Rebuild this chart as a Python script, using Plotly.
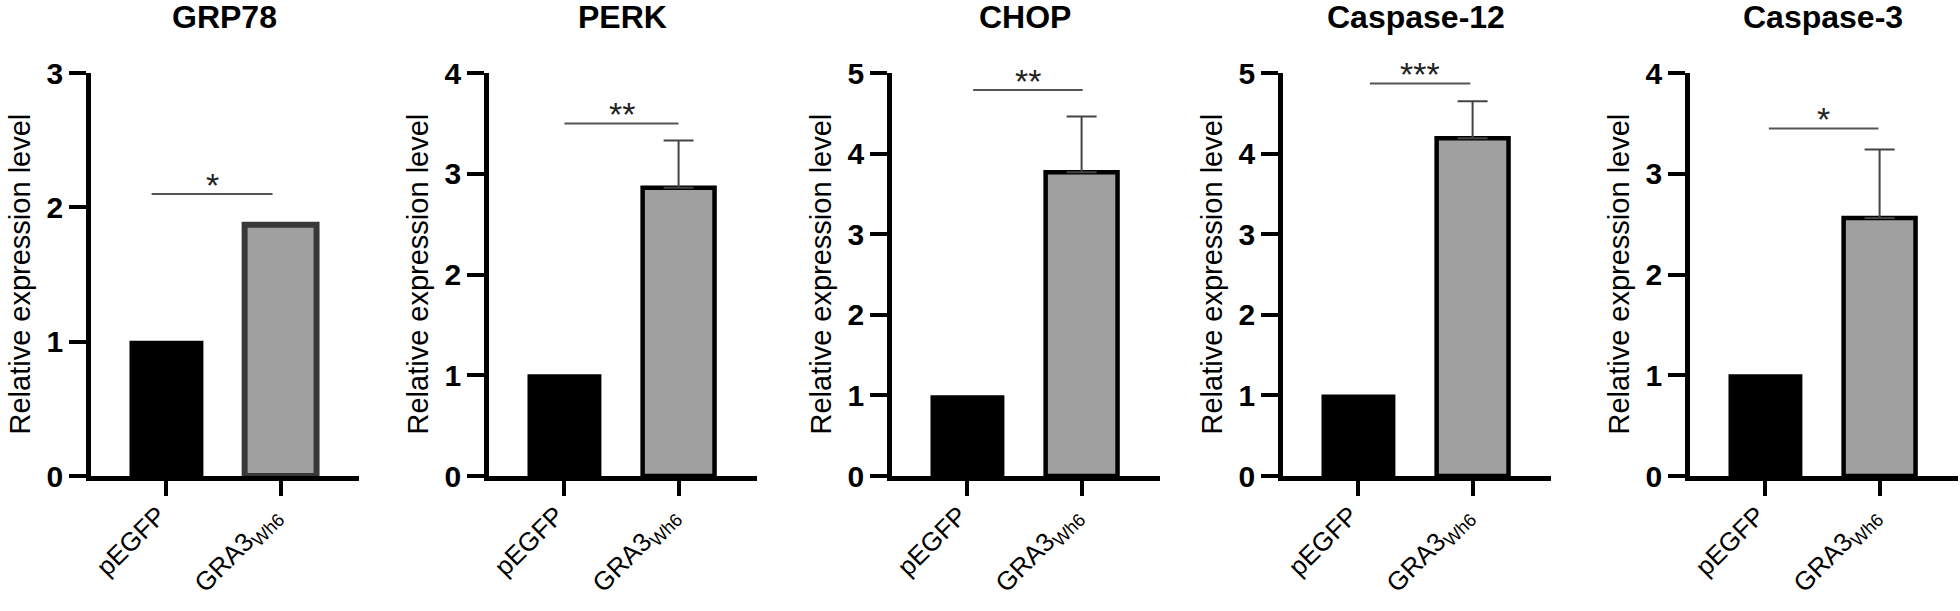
import plotly.graph_objects as go

# ---------------- data ----------------
genes = ["GRP78", "PERK", "CHOP", "Caspase-12", "Caspase-3"]
categories = ["pEGFP", "GRA3<sub>Wh6</sub>"]
pegfp_values = [1.0, 1.0, 0.99, 1.0, 1.0]
gra3_values = [1.87, 2.86, 3.77, 4.19, 2.56]
gra3_errors = [None, 0.47, 0.69, 0.46, 0.68]
y_max = [3, 4, 5, 5, 4]
sig_labels = ["*", "**", "**", "***", "*"]
sig_levels = [2.10, 3.50, 4.79, 4.87, 3.45]
sig_from = [-0.13, 0.0, 0.05, 0.10, 0.03]
sig_to = [0.93, 1.0, 1.01, 0.98, 0.99]

# ---------------- layout geometry (pixels) ----------------
W, H = 1960, 611
axis_left_px = [89, 487, 890, 1281, 1688]
axis_width_px = 270
plot_top_px, plot_bottom_px = 73, 476
FONT = "Liberation Sans, Arial, Helvetica, sans-serif"

fig = go.Figure()
annotations = []
shapes = []
layout = {}

for i, gene in enumerate(genes):
    n = "" if i == 0 else str(i + 1)
    xa, ya = "x" + n, "y" + n
    x0 = (axis_left_px[i] + 2) / W
    x1 = (axis_left_px[i] + axis_width_px) / W
    y0 = 1 - plot_bottom_px / H
    y1 = 1 - plot_top_px / H

    gra_line = "#383838" if i == 0 else "black"
    gra_lw = 6 if i == 0 else 4.5

    fig.add_trace(go.Bar(
        x=[categories[0]], y=[pegfp_values[i]], xaxis=xa, yaxis=ya,
        width=0.63, marker=dict(color="black", line=dict(color="black", width=2)),
        showlegend=False, hoverinfo="y"))
    err = None
    if gra3_errors[i] is not None:
        err = dict(type="data", symmetric=False, array=[gra3_errors[i]],
                   arrayminus=[0], color="#444444", thickness=2, width=15)
    fig.add_trace(go.Bar(
        x=[categories[1]], y=[gra3_values[i]], xaxis=xa, yaxis=ya,
        width=0.63, marker=dict(color="#a0a0a0", line=dict(color=gra_line, width=gra_lw)),
        error_y=err, showlegend=False, hoverinfo="y"))

    layout["xaxis" + n] = dict(
        domain=[x0, x1], anchor=ya, type="category", automargin=False,
        categoryorder="array", categoryarray=categories,
        range=[-0.661, 1.687], showline=True, linecolor="black", linewidth=4.5,
        ticks="outside", ticklen=15, tickwidth=4, tickcolor="black",
        tickangle=-45, ticklabelstandoff=-6, ticklabelshift=-8,
        tickfont=dict(family=FONT, size=26, color="black"),
        showgrid=False, zeroline=False, fixedrange=True)
    layout["yaxis" + n] = dict(
        domain=[y0, y1], anchor=xa, range=[0, y_max[i]], dtick=1, tick0=0,
        automargin=False,
        showline=True, linecolor="black", linewidth=4.5,
        ticks="outside", ticklen=17, tickwidth=4, tickcolor="black",
        tickfont=dict(family=FONT, size=30, color="black", weight="bold"),
        showgrid=False, zeroline=False, fixedrange=True)

    # panel title
    annotations.append(dict(
        text="<b>%s</b>" % gene, xref="paper", yref="paper",
        x=(axis_left_px[i] + axis_width_px / 2) / W, y=1 - 17 / H,
        xanchor="center", yanchor="middle", showarrow=False,
        font=dict(family=FONT, size=32, color="black")))
    # y-axis title
    annotations.append(dict(
        text="Relative expression level", xref="paper", yref="paper",
        x=(axis_left_px[i] - 70) / W, y=(y0 + y1) / 2, textangle=-90,
        xanchor="center", yanchor="middle", showarrow=False,
        font=dict(family=FONT, size=29, color="black")))
    # significance bar
    shapes.append(dict(
        type="line", xref=xa, yref=ya, x0=sig_from[i], x1=sig_to[i],
        y0=sig_levels[i], y1=sig_levels[i],
        line=dict(color="#555555", width=2)))
    annotations.append(dict(
        text=sig_labels[i], xref=xa, yref=ya,
        x=(sig_from[i] + sig_to[i]) / 2, y=sig_levels[i],
        xanchor="center", yanchor="bottom", yshift=-12, showarrow=False,
        font=dict(family=FONT, size=34, color="#222222")))

fig.update_layout(
    width=W, height=H, margin=dict(l=0, r=0, t=0, b=0),
    paper_bgcolor="white", plot_bgcolor="white",
    barmode="overlay", annotations=annotations, shapes=shapes,
    font=dict(family=FONT), **layout)

fig.write_html(
    "out.html", config={"displayModeBar": False},
    post_script="document.body.style.margin='0';document.body.style.overflow='hidden';")
